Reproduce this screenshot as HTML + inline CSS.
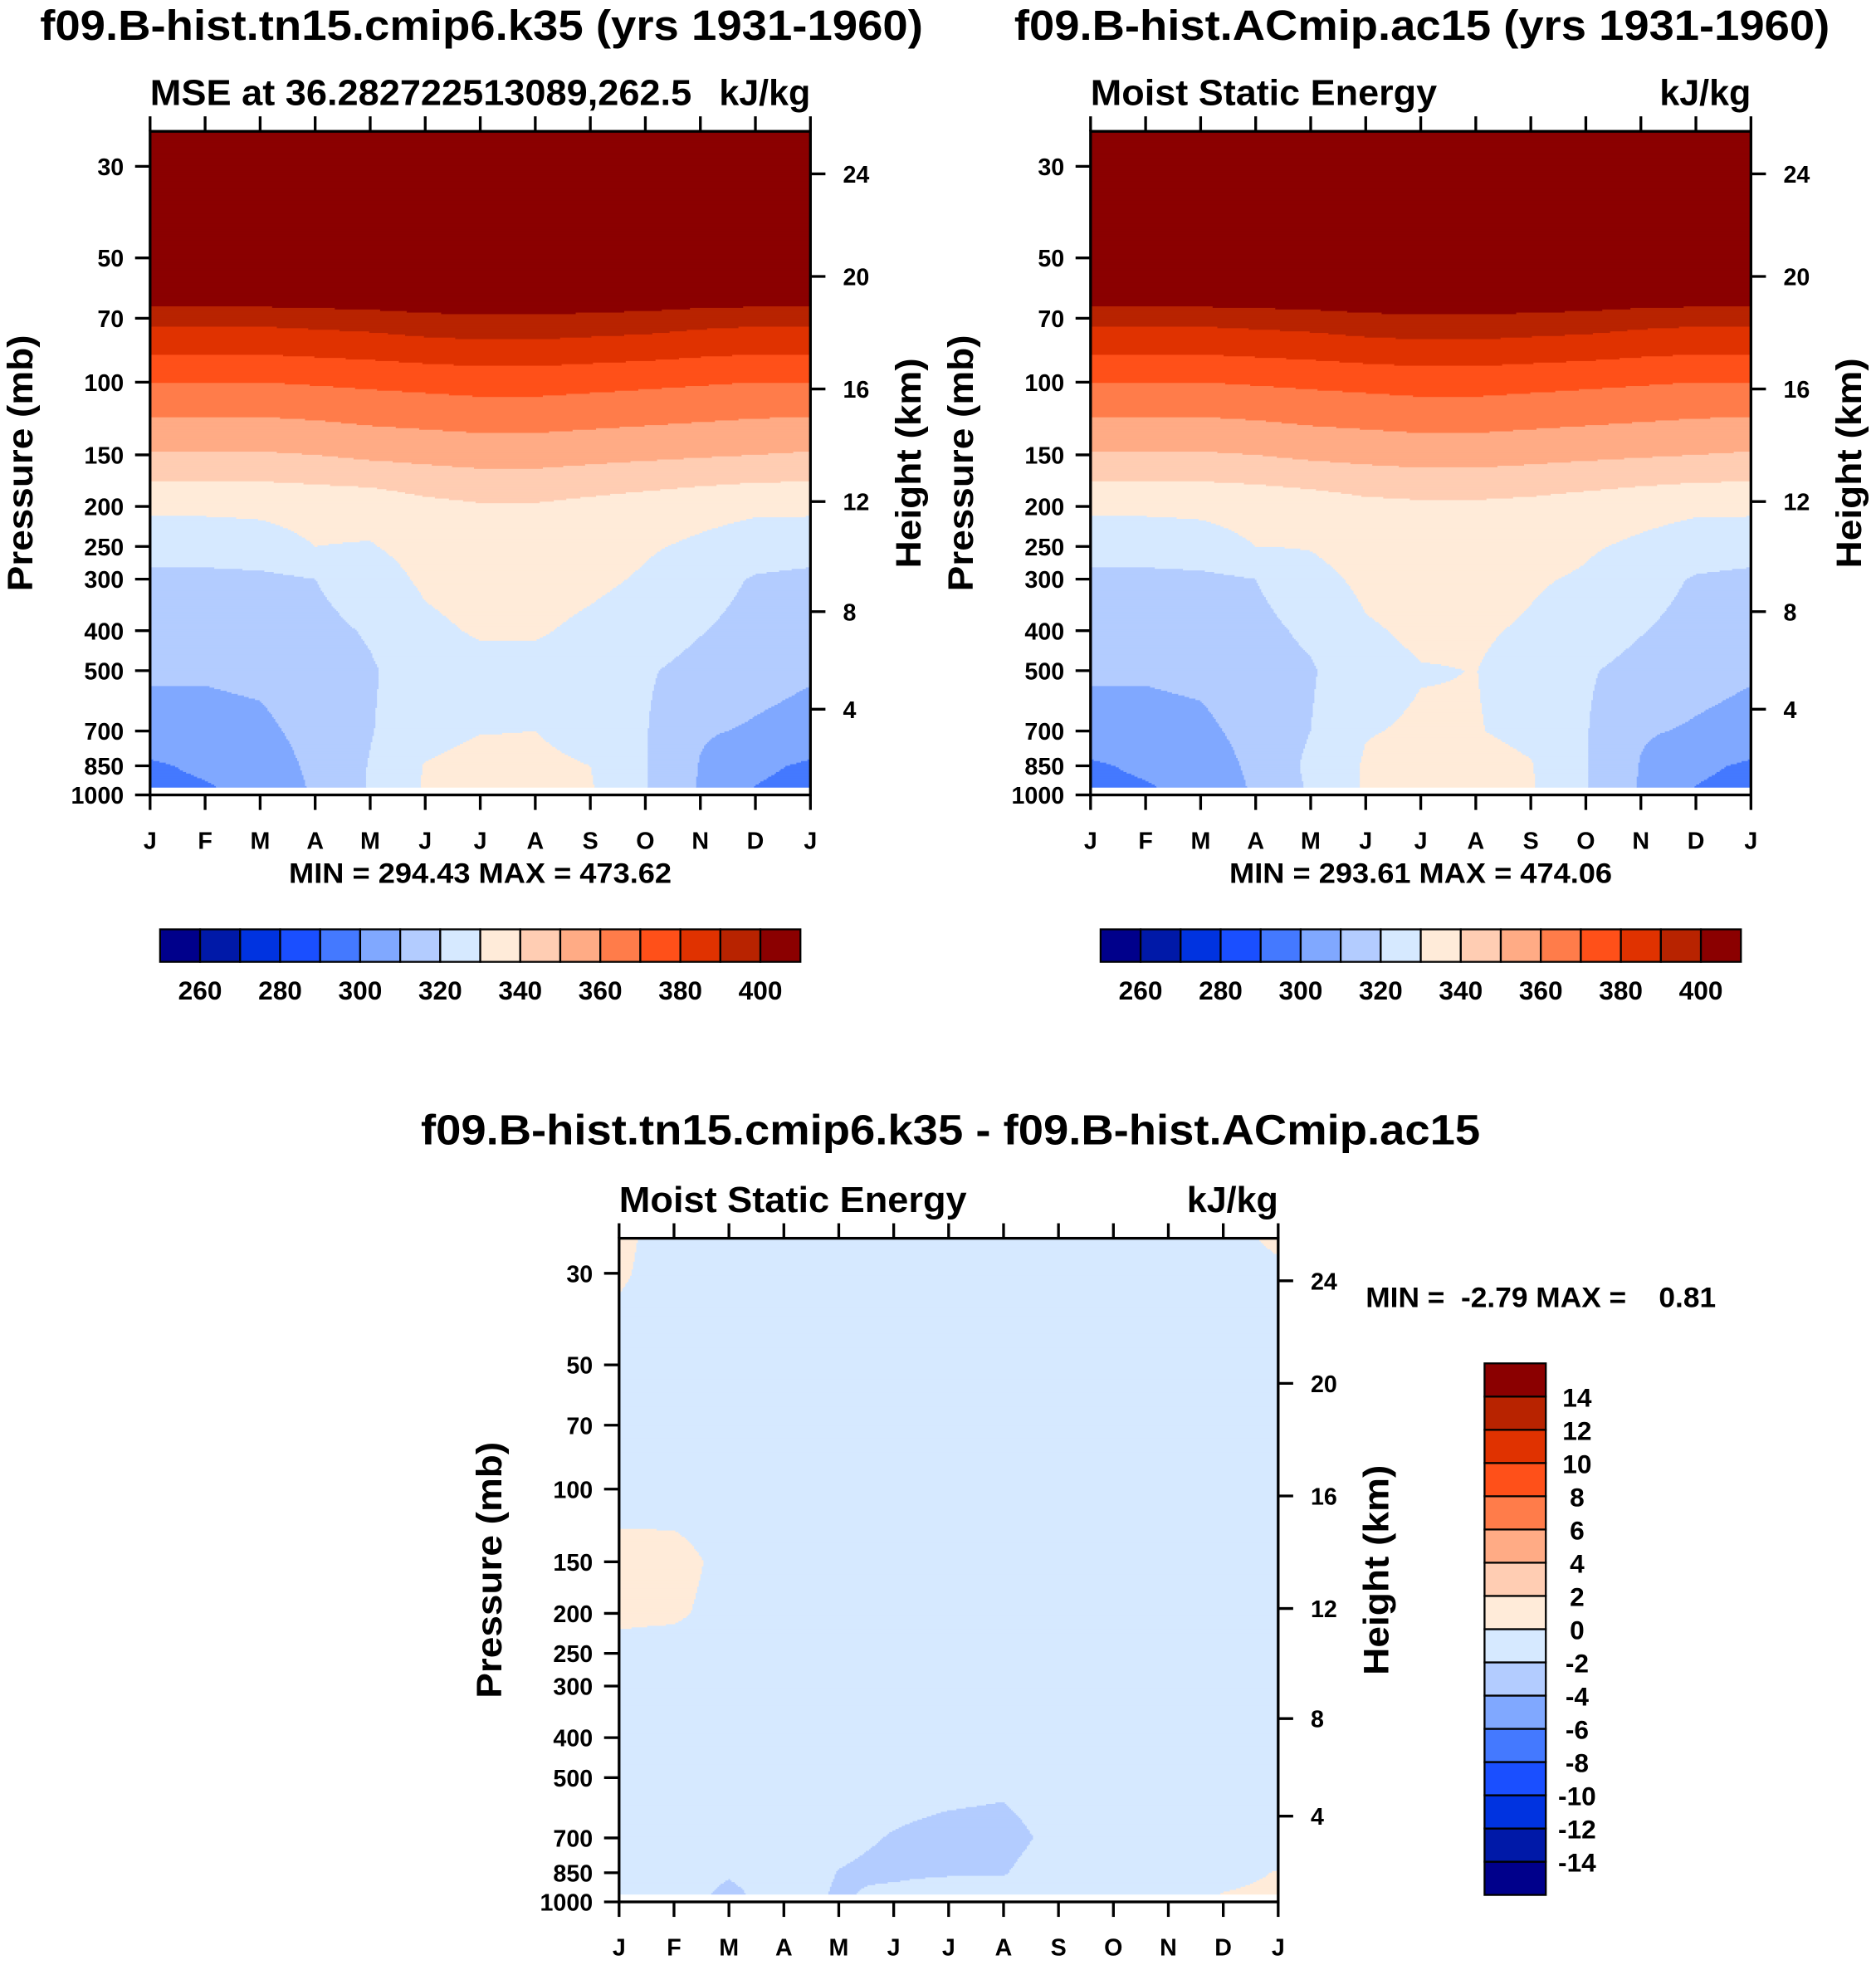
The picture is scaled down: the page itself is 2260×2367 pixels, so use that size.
<!DOCTYPE html>
<html><head><meta charset="utf-8"><style>
html,body{margin:0;padding:0;background:#fff;}
svg{display:block;}
text{font-family:"Liberation Sans",sans-serif;font-weight:bold;fill:#000;white-space:pre;}
</style></head><body>
<svg id="fig" xmlns="http://www.w3.org/2000/svg" width="2260" height="2367" viewBox="0 0 1500 1571"></svg>
<script>
const monthLabels=["J","F","M","A","M","J","J","A","S","O","N","D","J"];
const levels=[25,30,50,70,100,150,200,250,300,400,500,700,850,1000];
const pTicks=[30,50,70,100,150,200,250,300,400,500,700,850,1000];
const hTicks=[24,20,16,12,8,4];
const hTickY=[139,221,311,401,489,567];
const mseColors=["#00008b","#0019a8","#0033e0","#1a4fff","#4479ff","#80a8ff","#b3ccff","#d6e9ff","#ffebd9","#ffcdb3","#ffab85","#ff7c4a","#ff5019","#e03200","#b82300","#8b0000"];
const mseBounds=[260,270,280,290,300,310,320,330,340,350,360,370,380,390,400];
const mseBarLabels=[260,280,300,320,340,360,380,400];
const diffBounds=[-14,-12,-10,-8,-6,-4,-2,0,2,4,6,8,10,12,14];
// rows = levels, cols = months J..D,J
const mse1=[
[474,474,474,474,474,474,474,474,474,474,474,474,474],
[462,462,462,462,462,462,462,462,462,462,462,462,462],
[430,430,430,430,430,431,431,431,431,430,430,430,430],
[393,393,393,394,395,397,398,398,397,396,394,393,393],
[370,370,370,371,372,373,374,374,373,372,371,370,370],
[349,349,349,350,352,353,354,354,353,352,351,350,349],
[331.5,331.5,331.5,332.5,333,337,339,339,337,335,333,331.5,331.5],
[325.5,325.5,327,330,329.5,333,336,336,334,331,328.5,326,325.5],
[317,317,317.5,320,326,331.5,334,334,332,329,324.5,319,317],
[315,315,315.5,317,321,328,331,331,328,325,320.5,316.5,315],
[311,311,312,315,319,325,327,327,325,321,317,313,311],
[307,307,308,313,319.5,326,329.5,330,325,320.5,311,309,307],
[298.5,302,305,312,320.5,330.5,334,333,330,320.5,309.5,302,298.5],
[296,298,303,311,321,331,340.5,335,331,320.5,309,299,296]];
const mse2=[
[474,474,474,474,474,474,474,474,474,474,474,474,474],
[462,462,462,462,462,462,462,462,462,462,462,462,462],
[430,430,430,430,430,431,431,431,431,430,430,430,430],
[393,393,393,394,395,397,398,398,397,396,394,393,393],
[370,370,370,371,372,373,374,374,373,372,371,370,370],
[349,349,349,350,352,353,354,354,353,352,351,350,349],
[331.5,331.5,331.5,332.5,334,337,338,338,337,335,333,331.5,331.5],
[325.5,325.5,327,330,330.5,334,336,336,334,331,328.5,326,325.5],
[317,317,317.5,320,327,332,334,334,331,329,324.5,319,317],
[315,315,315.5,317,322,329,331.5,331,329,325,320.5,316.5,315],
[311,311,312,315,319,327,329.6,330.1,327,321,317,313,311],
[307,307,308,313,320,329.5,331,330.4,328,320.5,311,309,307],
[298.5,302,305,312,322,331,334,333,330.5,320.5,309.5,302,298.5],
[296,298,303,311,321,331,340.5,335,331,320.5,309,299,296]];
const diff=[
[0.5,-1,-1,-1,-1,-1,-1,-1,-1,-1,-1,-1,0.5],
[0.3,-1,-1,-1,-1,-1,-1,-1,-1,-1,-1,-1,-0.6],
[-1,-1,-1,-1,-1,-1,-1,-1,-1,-1,-1,-1,-1],
[-1,-1,-1,-1,-1,-1,-1,-1,-1,-1,-1,-1,-1],
[-0.6,-0.9,-1,-1,-1,-1,-1,-1,-1,-1,-1,-1,-1],
[0.5,0.7,-0.6,-1,-1,-1,-1,-1,-1,-1,-1,-1,-1],
[0.4,0.3,-0.7,-1,-1,-1,-1,-1,-1,-1,-1,-1,-1],
[-0.6,-0.8,-1,-1,-1,-1,-1,-1,-1,-1,-1,-1,-1],
[-1,-1,-1,-1,-1,-1,-1,-1,-1,-1,-1,-1,-1],
[-1,-1,-1,-1,-1,-1,-1,-1,-1,-1,-1,-1,-1],
[-1,-1,-1,-1,-1,-1.3,-1.4,-1.6,-1,-1,-1,-1,-1],
[-1,-1,-1,-1,-1.6,-2.1,-2.5,-2.6,-1.5,-1,-1,-1,-1],
[-0.5,-1,-1.8,-1,-2.05,-2.4,-2.3,-2.1,-1,-1,-1,-0.6,0.1],
[0.2,-1,-2.7,-1,-2.3,-1.2,0.05,-1,-1,-1,-1,0.3,0.5]];

const svg=document.getElementById('fig');
const NS="http://www.w3.org/2000/svg";
function el(tag,attrs,parent,txt){const e=document.createElementNS(NS,tag);for(const k in attrs)e.setAttribute(k,attrs[k]);if(txt!==undefined)e.textContent=txt;(parent||svg).appendChild(e);return e;}
const PPD=330;
function colorIdx(v,b){let i=0;for(const x of b)if(v>=x)i++;return i;}
function interp(data,m,p){
  const lp=Math.log10(p);let r=0;
  while(r<levels.length-2&&Math.log10(levels[r+1])<lp)r++;
  const l0=Math.log10(levels[r]),l1=Math.log10(levels[r+1]);
  let f=(lp-l0)/(l1-l0);f=Math.max(0,Math.min(1,f));
  let c=Math.min(11,Math.floor(m));c=Math.max(0,c);const g=m-c;
  const a=data[r][c]*(1-g)+data[r][c+1]*g,b=data[r+1][c]*(1-g)+data[r+1][c+1]*g;
  return a*(1-f)+b*f;}

function panel(opt){
  const {x0,y30,W,data,colors,bounds,name}=opt;
  const yTop=y30-28,yBot=y30+PPD*Math.log10(1000/30);
  const yP=p=>y30+PPD*Math.log10(p/30);
  const xM=m=>x0+m*W/12;
  const g=el('g',{}, svg);
  
  
  const dataBot=yP(960);
  const nx=Math.round(W/1.25),dx=W/nx;
  const ny=Math.round((dataBot-yTop)/1.25),dy=(dataBot-yTop)/ny;
  for(let j=0;j<ny;j++){
    const y=yTop+j*dy;
    const p=30*Math.pow(10,(y+dy/2-y30)/PPD);
    let runStart=0,runC=-1;
    const flush=(end)=>{
      const r=el('rect',{x:(x0+runStart*dx).toFixed(2),y:y.toFixed(2),width:((end-runStart)*dx+(end<nx?0.4:0)).toFixed(2),height:(dy+(j<ny-1?0.4:0)).toFixed(2),fill:colors[runC]},g);
      
      };
    for(let i=0;i<nx;i++){
      const m=(i+0.5)*dx/W*12;
      const ci=colorIdx(interp(data,m,p),bounds);
      if(ci!==runC){if(runC>=0)flush(i);runStart=i;runC=ci;}
    }
    flush(nx);
  }
  const fr=el('rect',{x:x0,y:yTop,width:W,height:yBot-yTop,fill:'none',stroke:'#000','stroke-width':2.2});
  
  
  pTicks.forEach(p=>{const y=yP(p);
    el('line',{x1:x0-12,x2:x0,y1:y,y2:y,stroke:'#000','stroke-width':2.2});
    const t=el('text',{x:x0-21,y:y+7,'text-anchor':'end','font-size':19},svg,String(p));
    
    });
  hTicks.forEach((h,i)=>{const y=hTickY[i]+(y30-133);
    el('line',{x1:x0+W,x2:x0+W+12,y1:y,y2:y,stroke:'#000','stroke-width':2.2});
    const t=el('text',{x:x0+W+26,y:y+7,'font-size':19},svg,String(h));
    
    });
  monthLabels.forEach((mL,i)=>{const x=xM(i);
    el('line',{x1:x,x2:x,y1:yBot,y2:yBot+12,stroke:'#000','stroke-width':2.2});
    el('line',{x1:x,x2:x,y1:yTop,y2:yTop-12,stroke:'#000','stroke-width':2.2});
    const t=el('text',{x:x,y:yBot+43,'text-anchor':'middle','font-size':19},svg,mL);
    
    });
  const pl=el('text',{transform:`translate(${x0-94},${(yTop+yBot)/2}) rotate(-90)`,'text-anchor':'middle','font-size':28,textLength:205,lengthAdjust:'spacingAndGlyphs'},svg,'Pressure (mb)');
  
  
  const hl=el('text',{transform:`translate(${x0+W+88},${(yTop+yBot)/2}) rotate(-90)`,'text-anchor':'middle','font-size':28,textLength:168,lengthAdjust:'spacingAndGlyphs'},svg,'Height (km)');
  
  
  const s1=el('text',{x:x0,y:yTop-21,'font-size':29,textLength:opt.subLen,lengthAdjust:'spacingAndGlyphs'},svg,opt.sub);
  
  
  const s2=el('text',{x:x0+W-73,y:yTop-21,'font-size':29,textLength:73,lengthAdjust:'spacingAndGlyphs'},svg,'kJ/kg');
  
  
}
function hbar(x0,y0,name){
  const g=el('g',{});
  
  
  mseColors.forEach((c,i)=>{el('rect',{x:x0+32*i,y:y0,width:32,height:26,fill:c,stroke:'#000','stroke-width':1.5},g);});
  mseBarLabels.forEach(v=>{const k=mseBounds.indexOf(v);
    const t=el('text',{x:x0+32*(k+1),y:y0+56,'text-anchor':'middle','font-size':21},g,String(v));
    
    });
}
function title(x,y,s,size,len,name){const t=el('text',{x:x-len/2,y:y,'font-size':size,textLength:len,lengthAdjust:'spacingAndGlyphs'},svg,s);
  
  }

title(385,32,'f09.B-hist.tn15.cmip6.k35 (yrs 1931-1960)',34,706,'left-panel-title');
title(1137,32,'f09.B-hist.ACmip.ac15 (yrs 1931-1960)',34,652,'right-panel-title');
panel({x0:120,y30:133,W:528,data:mse1,colors:mseColors,bounds:mseBounds,name:'mse-contour-left',sub:'MSE at 36.282722513089,262.5',subLen:433});
panel({x0:872,y30:133,W:528,data:mse2,colors:mseColors,bounds:mseBounds,name:'mse-contour-right',sub:'Moist Static Energy',subLen:277});
title(384,706,'MIN = 294.43 MAX = 473.62',23,306,'left-min-max');
title(1136,706,'MIN = 293.61 MAX = 474.06',23,306,'right-min-max');
hbar(128,743,'left-colorbar');
hbar(880,743,'right-colorbar');
title(760,915,'f09.B-hist.tn15.cmip6.k35 - f09.B-hist.ACmip.ac15',34,847,'difference-title');
panel({x0:495,y30:1018,W:527,data:diff,colors:mseColors,bounds:diffBounds,name:'difference-contour',sub:'Moist Static Energy',subLen:278});
{const t=el('text',{x:1092,y:1045,'font-size':23,textLength:280,lengthAdjust:'spacingAndGlyphs'},svg,'MIN =  -2.79 MAX =    0.81');
 
 }
{const g=el('g',{});
 
 
 const bh=425/16;
 mseColors.forEach((c,i)=>{el('rect',{x:1187,y:1515-bh*(i+1),width:49,height:bh,fill:c,stroke:'#000','stroke-width':1.5},g);});
 diffBounds.forEach((v,k)=>{const t=el('text',{x:1261,y:1515-bh*(k+1)+8,'text-anchor':'middle','font-size':21},g,String(v));
   
   });
}
</script>
</body></html>
